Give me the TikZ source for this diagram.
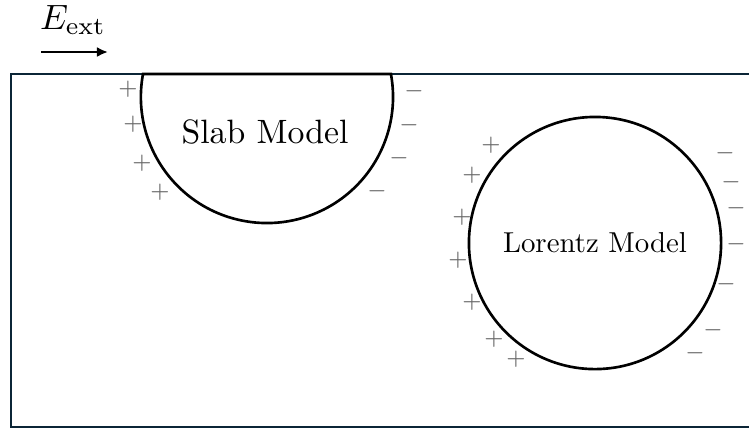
\documentclass[tikz,border=0pt]{standalone}
\usetikzlibrary{arrows.meta}

\definecolor{rahmen}{HTML}{0B2536}

\tikzset{
    ladung/.style={text=black!60, inner sep=0pt, font=\fontsize{5.8}{6}\selectfont},
    modell/.style={draw, line width=0.75pt}
}

\begin{document}
\begin{tikzpicture}[x=0.01cm, y=-0.01cm]
    \useasboundingbox (0,0) rectangle (749,429);
    \clip (0,0) rectangle (749,429);
    % box
    \draw[rahmen, line width=0.7pt] (11,74) rectangle (780,427);
    % field
    \path node[anchor=base, inner sep=0pt] (E) at (73,29) {\fontsize{9.6}{11}\selectfont $E_{\mathrm{ext}}$};
    \coordinate (EA) at (41,52);
    \coordinate (EB) at (108,52);
    \draw[line width=0.7pt, -{Latex[length=1.1mm, width=1mm]}] (EA) -- (EB);
    % slab (circle cut by the top edge)
    \coordinate (SL) at (143,74);
    \draw[modell] (SL) arc[start angle=169.5, end angle=370.5, radius=1.26cm] -- cycle;
    \path node (slab) at (265,132) {\fontsize{9.6}{11}\selectfont Slab Model};
    % lorentz
    \path node[modell, circle, minimum size=2.52cm, inner sep=0pt] (lorentz) at (595,243)
        {\scalebox{0.82}{\fontsize{10}{12}\selectfont Lorentz Model}};
    % charges
    \path node[ladung] (s1) at (128,89) {$+$}
        node[ladung] (s2) at (133,124) {$+$}
        node[ladung] (s3) at (142,163) {$+$}
        node[ladung] (s4) at (160,192) {$+$}
        node[ladung] (s5) at (414,91) {$-$}
        node[ladung] (s6) at (409,125) {$-$}
        node[ladung] (s7) at (399,158) {$-$}
        node[ladung] (s8) at (377,191) {$-$};
    \path node[ladung] (l1) at (491,145) {$+$}
        node[ladung] (l2) at (472,175) {$+$}
        node[ladung] (l3) at (462,217) {$+$}
        node[ladung] (l4) at (458,260) {$+$}
        node[ladung] (l5) at (472,302) {$+$}
        node[ladung] (l6) at (494,339) {$+$}
        node[ladung] (l7) at (516,359) {$+$}
        node[ladung] (l8) at (725,153) {$-$}
        node[ladung] (l9) at (731,182) {$-$}
        node[ladung] (l10) at (736,208) {$-$}
        node[ladung] (l11) at (736,244) {$-$}
        node[ladung] (l12) at (726,284) {$-$}
        node[ladung] (l13) at (713,330) {$-$}
        node[ladung] (l14) at (695,353) {$-$};
\end{tikzpicture}
\end{document}
